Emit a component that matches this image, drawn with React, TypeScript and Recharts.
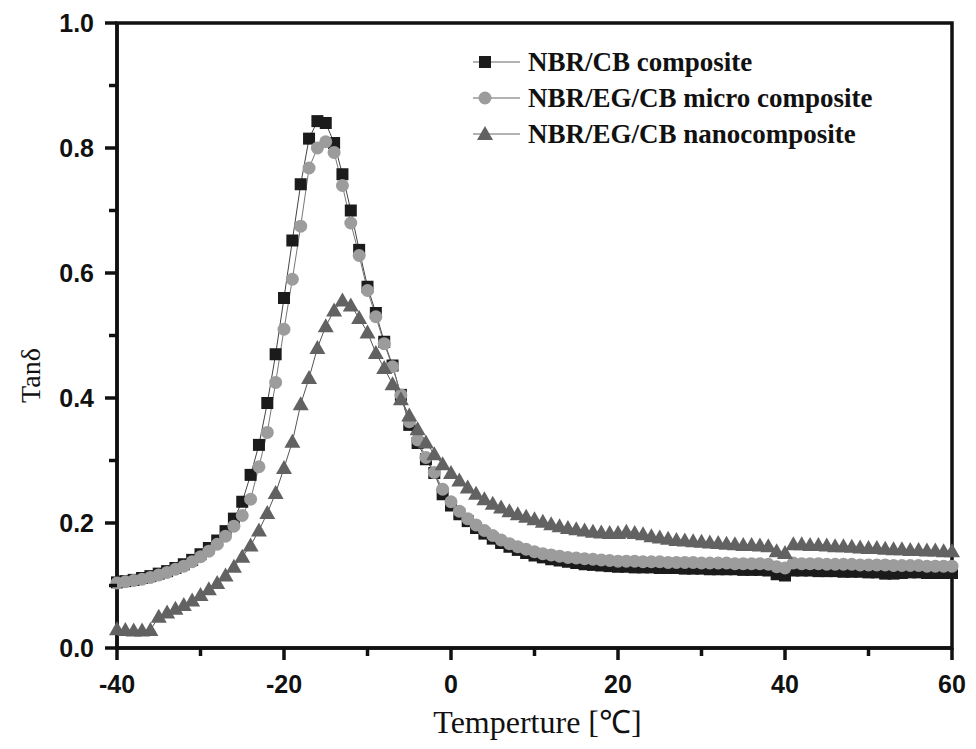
import React from 'react';
import { LineChart, Line, XAxis, YAxis, ReferenceArea, Legend } from 'recharts';

// temperature (°C) — one reading per degree
const temps = [
  -40, -39, -38, -37, -36, -35, -34, -33, -32, -31,
  -30, -29, -28, -27, -26, -25, -24, -23, -22, -21,
  -20, -19, -18, -17, -16, -15, -14, -13, -12, -11,
  -10, -9, -8, -7, -6, -5, -4, -3, -2, -1,
  0, 1, 2, 3, 4, 5, 6, 7, 8, 9,
  10, 11, 12, 13, 14, 15, 16, 17, 18, 19,
  20, 21, 22, 23, 24, 25, 26, 27, 28, 29,
  30, 31, 32, 33, 34, 35, 36, 37, 38, 39,
  40, 41, 42, 43, 44, 45, 46, 47, 48, 49,
  50, 51, 52, 53, 54, 55, 56, 57, 58, 59, 60,
];

const nbrCb = [
  0.105, 0.107, 0.109, 0.112, 0.115, 0.119, 0.123, 0.128, 0.134, 0.141,
  0.150, 0.160, 0.172, 0.187, 0.207, 0.234, 0.277, 0.325, 0.392, 0.470,
  0.560, 0.652, 0.742, 0.815, 0.843, 0.840, 0.808, 0.758, 0.700, 0.637,
  0.578, 0.536, 0.490, 0.452, 0.405, 0.357, 0.328, 0.302, 0.280, 0.246,
  0.228, 0.214, 0.203, 0.192, 0.183, 0.175, 0.168, 0.162, 0.157, 0.152,
  0.148, 0.145, 0.142, 0.140, 0.138, 0.136, 0.134, 0.133, 0.132, 0.131,
  0.130, 0.130, 0.129, 0.129, 0.129, 0.128, 0.128, 0.128, 0.127, 0.127,
  0.127, 0.126, 0.126, 0.126, 0.126, 0.125, 0.125, 0.125, 0.124, 0.118,
  0.116, 0.124, 0.124, 0.124, 0.123, 0.123, 0.123, 0.122, 0.122, 0.122,
  0.121, 0.121, 0.119, 0.119, 0.120, 0.121, 0.121, 0.120, 0.120, 0.120, 0.120,
];

const microComposite = [
  0.104, 0.106, 0.108, 0.110, 0.113, 0.117, 0.121, 0.126, 0.131, 0.138,
  0.146, 0.155, 0.166, 0.179, 0.195, 0.212, 0.238, 0.290, 0.345, 0.425,
  0.510, 0.590, 0.675, 0.768, 0.800, 0.810, 0.793, 0.740, 0.680, 0.628,
  0.572, 0.530, 0.487, 0.450, 0.405, 0.362, 0.333, 0.305, 0.281, 0.254,
  0.234, 0.219, 0.207, 0.197, 0.188, 0.180, 0.173, 0.167, 0.162, 0.158,
  0.154, 0.151, 0.149, 0.147, 0.145, 0.144, 0.143, 0.142, 0.141, 0.140,
  0.139, 0.139, 0.139, 0.138, 0.138, 0.138, 0.137, 0.137, 0.137, 0.137,
  0.136, 0.136, 0.136, 0.136, 0.135, 0.135, 0.135, 0.135, 0.134, 0.130,
  0.128, 0.136, 0.135, 0.135, 0.135, 0.134, 0.134, 0.134, 0.134, 0.133,
  0.133, 0.133, 0.133, 0.132, 0.132, 0.132, 0.132, 0.131, 0.131, 0.131, 0.131,
];

const nanoComposite = [
  0.030, 0.029, 0.028, 0.028, 0.029, 0.050, 0.057, 0.063, 0.069, 0.076,
  0.085, 0.094, 0.104, 0.116, 0.130, 0.146, 0.164, 0.188, 0.216, 0.248,
  0.288, 0.330, 0.390, 0.432, 0.480, 0.515, 0.540, 0.556, 0.548, 0.528,
  0.505, 0.472, 0.448, 0.422, 0.398, 0.372, 0.350, 0.329, 0.310, 0.294,
  0.280, 0.268, 0.257, 0.247, 0.238, 0.231, 0.225, 0.219, 0.214, 0.210,
  0.206, 0.202, 0.198, 0.195, 0.192, 0.190, 0.188, 0.186, 0.185, 0.184,
  0.184, 0.186, 0.184, 0.182, 0.179, 0.177, 0.175, 0.173, 0.172, 0.171,
  0.170, 0.169, 0.168, 0.167, 0.166, 0.165, 0.165, 0.164, 0.163, 0.155,
  0.152, 0.166, 0.166, 0.165, 0.165, 0.164, 0.163, 0.163, 0.162, 0.161,
  0.160, 0.160, 0.159, 0.158, 0.158, 0.157, 0.157, 0.156, 0.156, 0.155, 0.155,
];

const seriesNames = [
  'NBR/CB composite',
  'NBR/EG/CB micro composite',
  'NBR/EG/CB nanocomposite',
];

const xTicks = [-40, -30, -20, -10, 0, 10, 20, 30, 40, 50, 60];
const yTicks = [0, 0.1, 0.2, 0.3, 0.4, 0.5, 0.6, 0.7, 0.8, 0.9, 1.0];

const data = temps.map((t, i) => ({
  t,
  cb: nbrCb[i],
  micro: microComposite[i],
  nano: nanoComposite[i],
}));

const AXIS = '#111';
const SQUARE = '#1b1b1b';
const CIRCLE = '#9c9c9c';
const TRIANGLE = '#626262';
const tickFont = '"Liberation Sans", Arial, sans-serif';
const serifFont = '"Liberation Serif", "Times New Roman", serif';

const squareDot = (p: any) => {
  if (p.cx == null || p.cy == null) return <g key={`s${p.index}`} />;
  return (
    <rect
      key={`s${p.index}`}
      x={p.cx - 6}
      y={p.cy - 6}
      width={12}
      height={12}
      fill={SQUARE}
    />
  );
};

const circleDot = (p: any) => {
  if (p.cx == null || p.cy == null) return <g key={`c${p.index}`} />;
  return <circle key={`c${p.index}`} cx={p.cx} cy={p.cy} r={6.5} fill={CIRCLE} />;
};

const triangleDot = (p: any) => {
  if (p.cx == null || p.cy == null) return <g key={`t${p.index}`} />;
  const { cx, cy } = p;
  return (
    <path
      key={`t${p.index}`}
      d={`M${cx},${cy - 8} L${cx + 8},${cy + 6} L${cx - 8},${cy + 6} Z`}
      fill={TRIANGLE}
    />
  );
};

const XTick = (props: any) => {
  const { x, y, payload } = props;
  const major = Math.abs(payload.value) % 20 === 0;
  return (
    <g>
      <line x1={x} y1={y} x2={x} y2={y + (major ? 12 : 8)} stroke={AXIS} strokeWidth={3.5} />
      {major && (
        <text
          x={x}
          y={y + 45}
          textAnchor="middle"
          fontFamily={tickFont}
          fontWeight="bold"
          fontSize={25}
          fill={AXIS}
        >
          {payload.value}
        </text>
      )}
    </g>
  );
};

const YTick = (props: any) => {
  const { x, y, payload } = props;
  const major = Math.round(payload.value * 10) % 2 === 0;
  return (
    <g>
      <line x1={x} y1={y} x2={x - (major ? 12 : 8)} y2={y} stroke={AXIS} strokeWidth={3.5} />
      {major && (
        <text
          x={x - 23}
          y={y + 9}
          textAnchor="end"
          fontFamily={tickFont}
          fontWeight="bold"
          fontSize={25}
          fill={AXIS}
        >
          {payload.value.toFixed(1)}
        </text>
      )}
    </g>
  );
};

const FrameShape = (p: any) => (
  <rect
    x={p.x}
    y={p.y}
    width={p.width}
    height={p.height}
    fill="none"
    stroke={AXIS}
    strokeWidth={3.5}
  />
);

const LegendIcon = ({ index }: { index: number }) => (
  <svg width={63} height={36} style={{ display: 'block', flex: 'none' }}>
    <line x1={8} y1={18} x2={55} y2={18} stroke="#666" strokeWidth={1.2} />
    {index === 0 && <rect x={14} y={12} width={12} height={12} fill={SQUARE} />}
    {index === 1 && <circle cx={20} cy={18} r={6.5} fill={CIRCLE} />}
    {index === 2 && <path d="M20,10 L28,24 L12,24 Z" fill={TRIANGLE} />}
  </svg>
);

const LegendBox = () => (
  <div
    style={{
      fontFamily: serifFont,
      fontWeight: 'bold',
      fontSize: 27,
      color: AXIS,
    }}
  >
    {seriesNames.map((name, i) => (
      <div key={name} style={{ display: 'flex', alignItems: 'center', height: 36 }}>
        <LegendIcon index={i} />
        <span style={{ whiteSpace: 'nowrap', lineHeight: '36px' }}>{name}</span>
      </div>
    ))}
  </div>
);

export default function App() {
  return (
    <div style={{ position: 'absolute', left: 0, top: 0, background: '#fff' }}>
      <LineChart
        width={976}
        height={749}
        data={data}
        margin={{ top: 23, right: 24, bottom: 0, left: 0 }}
      >
        <XAxis
          dataKey="t"
          type="number"
          domain={[-40, 60]}
          ticks={xTicks}
          interval={0}
          height={101}
          tickSize={0}
          tickMargin={0}
          tick={<XTick />}
          axisLine={{ stroke: AXIS, strokeWidth: 3.5 }}
          tickLine={false}
          label={(lp: any) => {
            const vb = lp.viewBox || {};
            return (
              <text
                x={vb.x + vb.width / 2 + 3}
                y={vb.y + 85}
                textAnchor="middle"
                fontFamily={serifFont}
                fontSize={32}
                fill={AXIS}
              >
                Temperture [℃]
              </text>
            );
          }}
        />
        <YAxis
          type="number"
          domain={[0, 1]}
          ticks={yTicks}
          interval={0}
          width={117}
          tickSize={0}
          tickMargin={0}
          tick={<YTick />}
          axisLine={{ stroke: AXIS, strokeWidth: 3.5 }}
          tickLine={false}
          label={(lp: any) => {
            const vb = lp.viewBox || {};
            const cx = 30;
            const cy = vb.y + vb.height / 2 + 40;
            return (
              <text
                x={cx}
                y={cy}
                textAnchor="middle"
                dominantBaseline="central"
                transform={`rotate(-90 ${cx} ${cy})`}
                fontFamily={serifFont}
                fontSize={28}
                fill={AXIS}
              >
                Tanδ
              </text>
            );
          }}
        />
        <ReferenceArea
          x1={-40}
          x2={60}
          y1={0}
          y2={1}
          shape={FrameShape}
        />
        <Legend
          layout="vertical"
          align="center"
          verticalAlign="middle"
          content={() => <LegendBox />}
          wrapperStyle={{ left: 465, top: 44, width: 480 }}
        />
        <Line
          dataKey="cb"
          name={seriesNames[0]}
          stroke="#444"
          strokeWidth={1}
          dot={squareDot}
          activeDot={false}
          isAnimationActive={false}
        />
        <Line
          dataKey="micro"
          name={seriesNames[1]}
          stroke="#777"
          strokeWidth={1}
          dot={circleDot}
          activeDot={false}
          isAnimationActive={false}
        />
        <Line
          dataKey="nano"
          name={seriesNames[2]}
          stroke="#555"
          strokeWidth={1}
          dot={triangleDot}
          activeDot={false}
          isAnimationActive={false}
        />
      </LineChart>
    </div>
  );
}
